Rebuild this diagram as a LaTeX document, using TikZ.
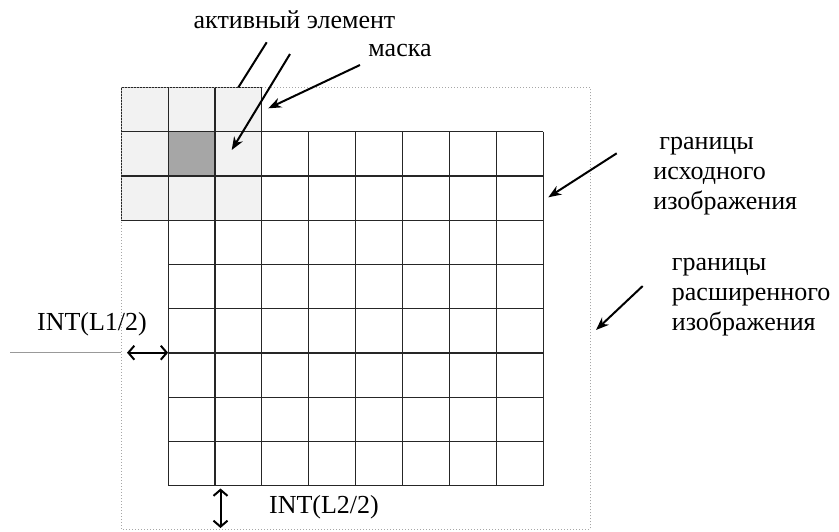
\documentclass[tikz,border=0pt]{standalone}
\usepackage{fontspec}
\setmainfont{Liberation Serif}
\usetikzlibrary{arrows.meta}
\tikzset{
  lbl/.style={inner sep=0pt, font=\fontsize{13}{15}\selectfont},
  pointer/.style={line width=1pt, -{Stealth[length=6.5pt,width=5pt]}},
  plainline/.style={line width=1pt},
  span/.style={line width=1pt, {Straight Barb[length=3pt,width=7pt]}-{Straight Barb[length=3pt,width=7pt]}},
  cellline/.style={line width=0.55pt, black!85},
  border/.style={line width=0.5pt, gray!70, densely dotted}
}
\begin{document}
\begin{tikzpicture}[x=0.5pt,y=-0.5pt]
  \useasboundingbox (0,0) rectangle (839,531);
  \def\cw{46.9}
  \def\ch{44.25}
  % mask and active element
  \fill[gray!10] (121.2,87.45) rectangle (262,220.2);
  \fill[gray!70] (168.1,131.7) rectangle (215,175.95);
  % source image grid
  \foreach \i in {0,...,8}
    \draw[cellline] (168.1+\i*\cw,131.7) -- (168.1+\i*\cw,485.7);
  \foreach \j in {0,...,8}
    \draw[cellline] (168.1,131.7+\j*\ch) -- (543.3,131.7+\j*\ch);
  % mask grid
  \foreach \i in {0,...,3}
    \draw[cellline] (121.2+\i*\cw,87.45) -- (121.2+\i*\cw,220.2);
  \foreach \j in {0,...,3}
    \draw[cellline] (121.2,87.45+\j*\ch) -- (262,87.45+\j*\ch);
  % extended image border
  \draw[border] (121.2,87.45) rectangle (590,529.5);
  % labels
  \node[lbl] (act) at (294.5,20) {активный элемент};
  \node[lbl] (mask) at (400,50) {маска};
  \node[lbl, align=left, anchor=west] (src) at (653,176)
    {\hspace{3pt}границы\\исходного\\изображения};
  \node[lbl, align=left, anchor=west] (ext) at (671.5,297)
    {границы\\расширенного\\изображения};
  \node[lbl] (int1) at (92,324) {INT(L1/2)};
  \node[lbl] (int2) at (324,507) {INT(L2/2)};
  % connectors
  \coordinate (a1) at (266.7,42.3);
  \coordinate (a1e) at (238.3,87.45);
  \coordinate (a2) at (290,54);
  \coordinate (a2e) at (231.7,150);
  \coordinate (m1) at (360,65);
  \coordinate (m1e) at (268.3,108.3);
  \coordinate (s1) at (616.7,153.3);
  \coordinate (s1e) at (548.3,197.3);
  \coordinate (e1) at (642.7,286);
  \coordinate (e1e) at (596,330);
  \draw[plainline] (a1) -- (a1e);
  \draw[pointer] (a2) -- (a2e);
  \draw[pointer] (m1) -- (m1e);
  \draw[pointer] (s1) -- (s1e);
  \draw[pointer] (e1) -- (e1e);
  % margins
  \coordinate (h0) at (10,352.7);
  \coordinate (h1) at (121.2,352.7);
  \coordinate (h2) at (127,352.7);
  \coordinate (h3) at (168.1,352.7);
  \draw[line width=0.6pt, gray!80] (h0) -- (h1);
  \draw[span] (h2) -- (h3);
  \coordinate (v1) at (220.5,488.5);
  \coordinate (v2) at (220.5,528);
  \draw[span] (v1) -- (v2);
\end{tikzpicture}
\end{document}
